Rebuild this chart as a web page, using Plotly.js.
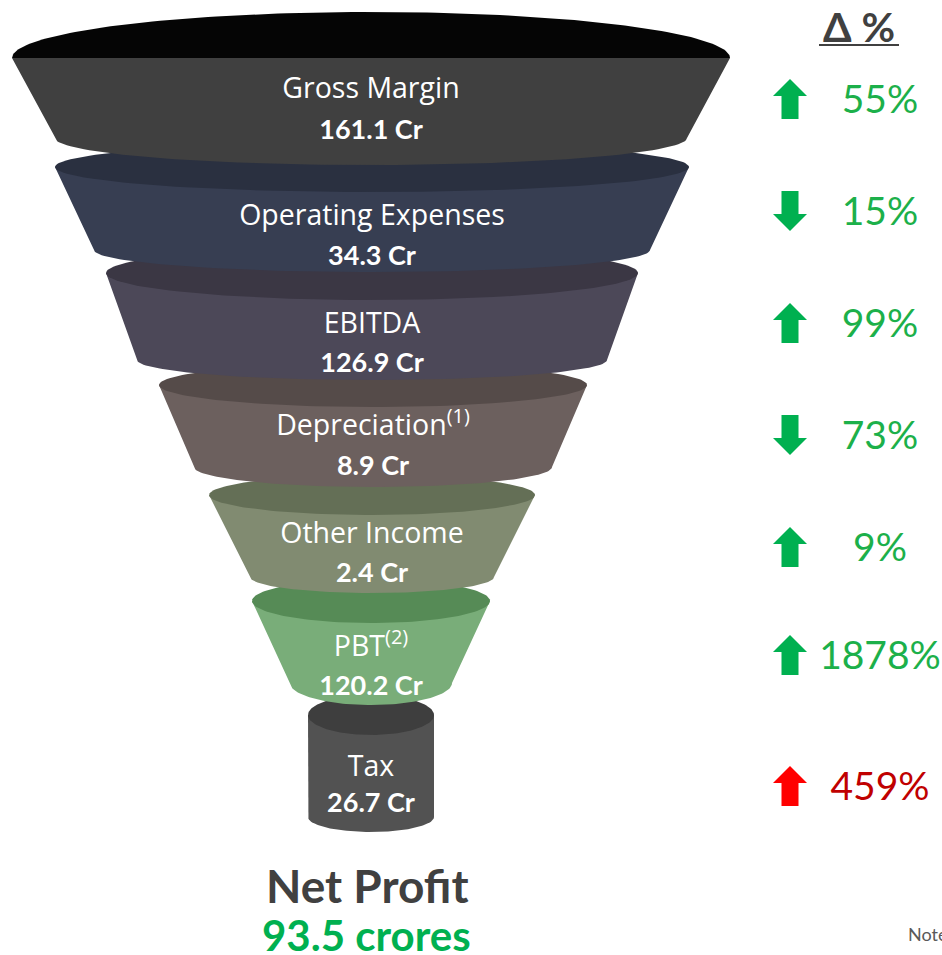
<!DOCTYPE html>
<html>
<head>
<meta charset="utf-8">
<script src="https://cdn.plot.ly/plotly-3.0.1.min.js"></script>
<style>html,body{margin:0;padding:0;background:#fff;}#chart{width:942px;height:955px;}</style>
</head>
<body>
<div id="chart"></div>
<script>
// ---------- DATA ----------
var stages = ['Gross Margin', 'Operating Expenses', 'EBITDA', 'Depreciation<sup>(1)</sup>', 'Other Income', 'PBT<sup>(2)</sup>', 'Tax'];
var values = [161.1, 34.3, 126.9, 8.9, 2.4, 120.2, 26.7];
var changePct = [55, 15, 99, 73, 9, 1878, 459];
var changeDir = ['up', 'down', 'up', 'down', 'up', 'up', 'up'];
var changeFavourable = [true, true, true, true, true, true, false];
var netProfitLabel = 'Net Profit';
var netProfitValue = 93.5;
var headerLabel = 'Δ %';
var noteLabel = 'Notes:';

// ---------- LAYOUT / STYLE (decorative funnel geometry, in page px) ----------
var cx = [371, 372, 372, 373, 372, 371, 371];
var topY = [58, 167, 273, 385, 495, 601, 715];
var topHW = [359, 317, 266, 214, 163, 119, 63];
var topRY = [46, 25, 27, 22, 20, 22, 20];
var botY = [138, 250, 360, 467, 577, 683, 817];
var botHW = [316, 278, 235, 179, 122, 81, 63];
var botRY = [27, 22, 20, 20, 16, 22, 15];
var topColor = ['#050505', '#2a3040', '#3b3744', '#554b49', '#646f56', '#568b56', '#3e3e3e'];
var bodyColor = ['#404040', '#373e52', '#4c4858', '#6c605e', '#818b71', '#79ad79', '#525252'];
var nameY = [91, 218, 326, 428, 536, 649, 769];
var valueY = [132, 258, 365, 468, 575, 688, 805];
var rowY = [99, 211, 323, 435, 547, 655, 786];
var textRowY = [103, 215, 327, 439, 551, 659, 790];
var arrowX = 790, pctX = 880;
var GREEN_ARROW = '#00b050', GREEN_TEXT = '#1cb04a', RED_ARROW = '#ff0000', RED_TEXT = '#c00000';
var FONT = 'Lato, "Open Sans", sans-serif';
var LABEL_FONT = '"Open Sans", Lato, sans-serif';

var traces = [];
function arc(xc, yc, rx, ry, t0, t1, n) {
  var xs = [], ys = [];
  for (var k = 0; k <= n; k++) {
    var t = t0 + (t1 - t0) * k / n;
    xs.push(xc + rx * Math.cos(t));
    ys.push(yc + ry * Math.sin(t));
  }
  return [xs, ys];
}
function poly(xs, ys, color) {
  traces.push({type: 'scatter', mode: 'lines', x: xs, y: ys, fill: 'toself',
    fillcolor: color, line: {width: 0, color: color}, hoverinfo: 'skip', showlegend: false});
}

// draw from bottom stage to top stage so upper bodies overlap lower ellipses
for (var i = stages.length - 1; i >= 0; i--) {
  var b = arc(cx[i], botY[i], botHW[i], botRY[i], Math.PI, 0, 80);
  var bx = [cx[i] - topHW[i]].concat(b[0]).concat([cx[i] + topHW[i], cx[i] - topHW[i]]);
  var by = [topY[i]].concat(b[1]).concat([topY[i], topY[i]]);
  poly(bx, by, bodyColor[i]);
  var e = (i === 0) ? arc(cx[i], topY[i], topHW[i], topRY[i], Math.PI, 2 * Math.PI, 120)
                    : arc(cx[i], topY[i], topHW[i], topRY[i], 0, 2 * Math.PI, 160);
  poly(e[0], e[1], topColor[i]);
}

// stage names and values
traces.push({type: 'scatter', mode: 'text', x: cx, y: nameY, text: stages,
  textposition: 'middle center', textfont: {family: LABEL_FONT, size: 28.5, color: '#ffffff'},
  hoverinfo: 'skip', showlegend: false});
traces.push({type: 'scatter', mode: 'text', x: cx, y: valueY,
  text: values.map(function (v) { return '<b>' + v.toFixed(1) + ' Cr</b>'; }),
  textposition: 'middle center', textfont: {family: FONT, size: 27, color: '#ffffff'},
  hoverinfo: 'skip', showlegend: false});

// change arrows
for (var j = 0; j < changePct.length; j++) {
  var yc = rowY[j], s = changeDir[j] === 'up' ? 1 : -1;
  var ax = [arrowX, arrowX + 17, arrowX + 8.5, arrowX + 8.5, arrowX - 8.5, arrowX - 8.5, arrowX - 17, arrowX];
  var ay = [yc - 20 * s, yc - 3 * s, yc - 3 * s, yc + 20 * s, yc + 20 * s, yc - 3 * s, yc - 3 * s, yc - 20 * s];
  poly(ax, ay, changeFavourable[j] ? GREEN_ARROW : RED_ARROW);
}
traces.push({type: 'scatter', mode: 'text', x: changePct.map(function () { return pctX; }), y: textRowY,
  text: changePct.map(function (p) { return p + '%'; }),
  textposition: 'middle center',
  textfont: {family: FONT, size: 39, color: changeFavourable.map(function (f) { return f ? GREEN_TEXT : RED_TEXT; })},
  hoverinfo: 'skip', showlegend: false});

var layout = {
  width: 942, height: 955,
  margin: {l: 0, r: 0, t: 0, b: 0},
  paper_bgcolor: '#ffffff', plot_bgcolor: '#ffffff',
  xaxis: {range: [0, 942], visible: false, fixedrange: true},
  yaxis: {range: [955, 0], visible: false, fixedrange: true},
  showlegend: false,
  annotations: [
    {x: 859, y: 26, xref: 'x', yref: 'y', text: '<b>' + headerLabel + '</b>', showarrow: false,
     font: {family: FONT, size: 41, color: '#404040'}, xanchor: 'center', yanchor: 'middle'},
    {x: 367, y: 885, xref: 'x', yref: 'y', text: '<b>' + netProfitLabel + '</b>', showarrow: false,
     font: {family: FONT, size: 46, color: '#404040'}, xanchor: 'center', yanchor: 'middle'},
    {x: 366, y: 935, xref: 'x', yref: 'y', text: '<b>' + netProfitValue.toFixed(1) + ' crores</b>', showarrow: false,
     font: {family: FONT, size: 42, color: '#00b050'}, xanchor: 'center', yanchor: 'middle', borderpad: 0},
    {x: 906, y: 934, xref: 'x', yref: 'y', text: noteLabel, showarrow: false,
     font: {family: FONT, size: 18, color: '#595959'}, xanchor: 'left', yanchor: 'middle'}
  ],
  shapes: [
    {type: 'line', xref: 'x', yref: 'y', x0: 819, x1: 899, y0: 45, y1: 45, line: {color: '#404040', width: 2}}
  ]
};

Plotly.newPlot('chart', traces, layout, {staticPlot: true, displayModeBar: false});
</script>
</body>
</html>
